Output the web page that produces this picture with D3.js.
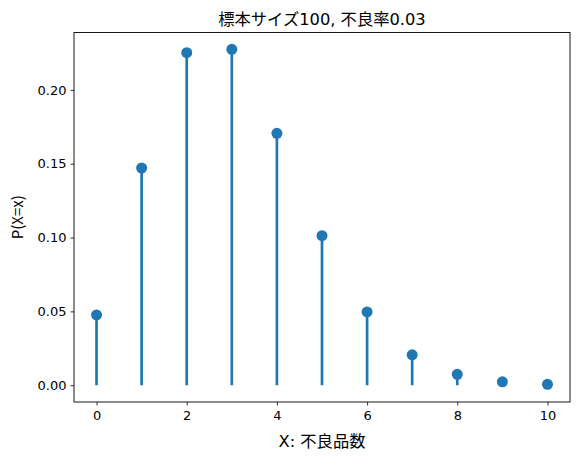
<!DOCTYPE html>
<html><head><meta charset="utf-8">
<script src="https://cdn.jsdelivr.net/npm/d3@7"></script>
<style>body{margin:0;background:#fff}text{font-family:"Noto Sans CJK JP","DejaVu Sans",sans-serif}</style>
</head><body>
<svg id="c" width="579" height="459"></svg>
<script>
const xs = [0,1,2,3,4,5,6,7,8,9,10];
const probs = [0.0476,0.1471,0.2252,0.2275,0.1706,0.1013,0.0496,0.0206,0.0074,0.0023,0.0006];
const xTicks = [0,2,4,6,8,10];
const yTicks = [0,0.05,0.10,0.15,0.20];
const title = "標本サイズ100, 不良率0.03";
const xLabel = "X: 不良品数";
const yLabel = "P(X=x)";
const color = "#1f77b4";

const L=74,R=570,T=32.5,B=402;
const svg=d3.select("#c");
const x=d3.scaleLinear().domain([-0.5,10.5]).range([L,R]);
const y=d3.scaleLinear().domain([-0.01138,0.23888]).range([B,T]);

svg.append("g").selectAll("line").data(xs).join("line")
 .attr("x1",d=>x(d)).attr("x2",d=>x(d)).attr("y1",y(0)).attr("y2",(d,i)=>y(probs[i]))
 .attr("stroke",color).attr("stroke-width",2.7);
svg.append("g").selectAll("circle").data(xs).join("circle")
 .attr("cx",d=>x(d)).attr("cy",(d,i)=>y(probs[i])).attr("r",5.5).attr("fill",color);

const xa=svg.append("g").attr("transform",`translate(0,${B})`)
 .call(d3.axisBottom(x).tickValues(xTicks).tickFormat(d3.format("d")).tickSize(3.5).tickPadding(5));
const ya=svg.append("g").attr("transform",`translate(${L},0)`)
 .call(d3.axisLeft(y).tickValues(yTicks).tickFormat(d3.format(".2f")).tickSize(3.5).tickPadding(4));
[xa,ya].forEach(a=>{a.select(".domain").remove();a.selectAll("text").attr("font-size",13).attr("fill","#000").style("font-family",'"DejaVu Sans",sans-serif');a.selectAll("line").attr("stroke","#000").attr("stroke-width",0.8);});
svg.append("rect").attr("x",L).attr("y",T).attr("width",R-L).attr("height",B-T).attr("fill","none").attr("stroke","#000").attr("stroke-width",0.9);

svg.append("text").attr("x",(L+R)/2).attr("y",25).attr("text-anchor","middle").attr("font-size",16.3).style("font-family",'"DejaVu Sans","Noto Sans CJK JP",sans-serif').text(title);
svg.append("text").attr("x",(L+R)/2).attr("y",447).attr("text-anchor","middle").attr("font-size",16.3).style("font-family",'"DejaVu Sans","Noto Sans CJK JP",sans-serif').text(xLabel);
svg.append("text").attr("transform",`translate(23,${(T+B)/2}) rotate(-90)`).attr("text-anchor","middle").attr("font-size",15).text(yLabel);
</script></body></html>
